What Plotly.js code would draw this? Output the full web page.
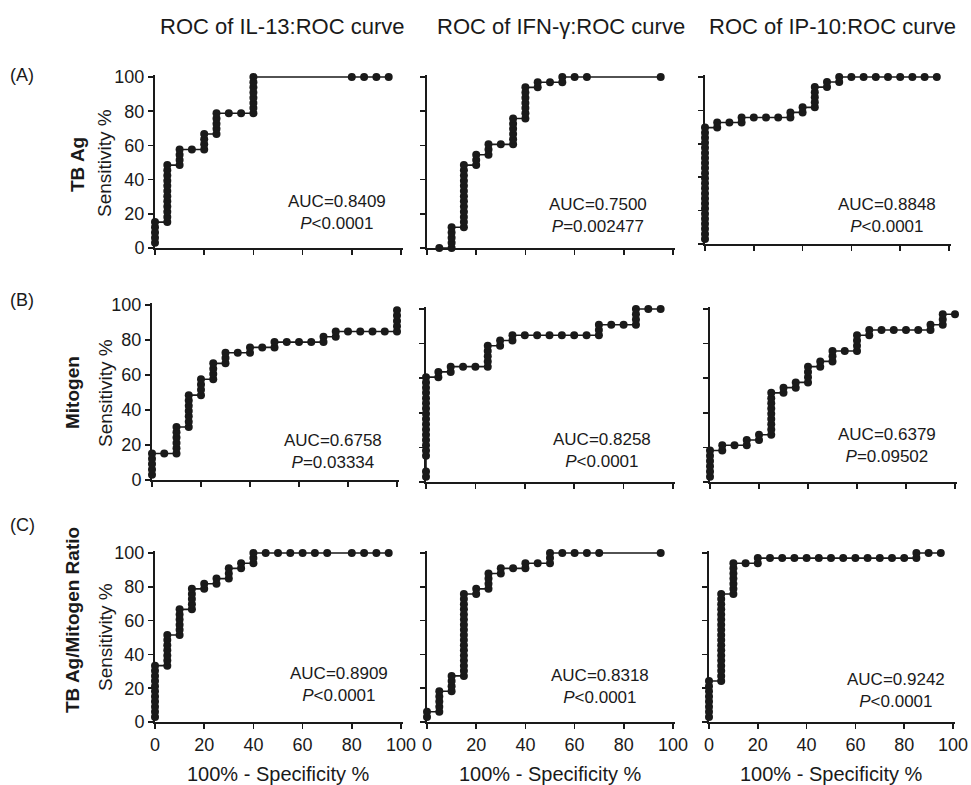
<!DOCTYPE html>
<html>
<head>
<meta charset="utf-8">
<script src="https://cdn.plot.ly/plotly-3.0.1.min.js"></script>
<style>html,body{margin:0;padding:0;background:#fff;}#chart{width:971px;height:785px;}</style>
</head>
<body>
<div id="chart"></div>
<script>
// ---------- data ----------
const colTitles = ["ROC of IL-13:ROC curve", "ROC of IFN-\u03b3:ROC curve", "ROC of IP-10:ROC curve"];
const rowTags = ["(A)", "(B)", "(C)"];
const rowNames = ["TB Ag", "Mitogen", "TB Ag/Mitogen Ratio"];
const xTitle = "100% - Specificity %";
const yTitle = "Sensitivity %";
const tickVals = [0, 20, 40, 60, 80, 100];

const aucText = ["0.8409","0.7500","0.8848","0.6758","0.8258","0.6379","0.8909","0.8318","0.9242"];
const pText   = ["<0.0001","=0.002477","<0.0001","=0.03334","<0.0001","=0.09502","<0.0001","<0.0001","<0.0001"];

// A1: IL-13, TB Ag
const A1_x = [0,0,0,0,0, 5,5,5,5,5,5,5,5,5,5,5,5, 10,10,10,10, 15, 20,20,20,20, 25,25,25,25,25, 30, 35, 40,40,40,40,40,40,40,40, 80,85,90,95];
const A1_y = [3.03,6.06,9.09,12.12,15.15, 15.15,18.18,21.21,24.24,27.27,30.30,33.33,36.36,39.39,42.42,45.45,48.48, 48.48,51.52,54.55,57.58, 57.58, 57.58,60.61,63.64,66.67, 66.67,69.70,72.73,75.76,78.79, 78.79, 78.79, 78.79,81.82,84.85,87.88,90.91,93.94,96.97,100, 100,100,100,100];
// A2: IFN-g, TB Ag
const A2_x = [5, 10,10,10,10,10, 15,15,15,15,15,15,15,15,15,15,15,15,15, 20,20,20, 25,25,25, 30, 35,35,35,35,35,35, 40,40,40,40,40,40,40, 45,45, 50, 55,55, 60, 65, 95];
const A2_y = [0, 0,3.03,6.06,9.09,12.12, 12.12,15.15,18.18,21.21,24.24,27.27,30.30,33.33,36.36,39.39,42.42,45.45,48.48, 48.48,51.52,54.55, 54.55,57.58,60.61, 60.61, 60.61,63.64,66.67,69.70,72.73,75.76, 75.76,78.79,81.82,84.85,87.88,90.91,93.94, 93.94,96.97, 96.97, 96.97,100, 100, 100, 100];
// A3: IP-10, TB Ag
const A3_x = [0,0,0,0,0,0,0,0,0,0,0,0,0,0,0,0,0,0,0,0,0,0,0, 5,5, 10, 15,15, 20, 25, 30, 35,35, 40,40, 45,45,45,45,45, 50,50, 55,55, 60,65,70,75,80,85,90,95];
const A3_y = [3.03,6.06,9.09,12.12,15.15,18.18,21.21,24.24,27.27,30.30,33.33,36.36,39.39,42.42,45.45,48.48,51.52,54.55,57.58,60.61,63.64,66.67,69.70, 69.70,72.73, 72.73, 72.73,75.76, 75.76, 75.76, 75.76, 75.76,78.79, 78.79,81.82, 81.82,84.85,87.88,90.91,93.94, 93.94,96.97, 96.97,100, 100,100,100,100,100,100,100,100];
// B1: IL-13, Mitogen
const B1_x = [0,0,0,0,0, 5, 10,10,10,10,10,10, 15,15,15,15,15,15,15, 20,20,20,20, 25,25,25,25, 30,30,30, 35, 40,40, 45, 50,50, 55, 60, 65, 70,70, 75,75, 80, 85, 90, 95, 100,100,100,100,100];
const B1_y = [3.03,6.06,9.09,12.12,15.15, 15.15, 15.15,18.18,21.21,24.24,27.27,30.30, 30.30,33.33,36.36,39.39,42.42,45.45,48.48, 48.48,51.52,54.55,57.58, 57.58,60.61,63.64,66.67, 66.67,69.70,72.73, 72.73, 72.73,75.76, 75.76, 75.76,78.79, 78.79, 78.79, 78.79, 78.79,81.82, 81.82,84.85, 84.85, 84.85, 84.85, 84.85, 84.85,87.88,90.91,93.94,96.97];
// B2: IFN-g, Mitogen
const B2_x = [0,0,0,0,0,0,0,0,0,0,0,0,0,0,0,0,0,0, 5,5, 10,10, 15, 20, 25,25,25,25,25, 30,30, 35,35, 40, 45, 50, 55, 60, 65, 70,70,70, 75, 80, 85,85,85,85, 90, 95];
const B2_y = [3.03,6.06,15.15,18.18,21.21,24.24,27.27,30.30,33.33,36.36,39.39,42.42,45.45,48.48,51.52,54.55,57.58,60.61, 60.61,63.64, 63.64,66.67, 66.67, 66.67, 66.67,69.70,72.73,75.76,78.79, 78.79,81.82, 81.82,84.85, 84.85, 84.85, 84.85, 84.85, 84.85, 84.85, 84.85,87.88,90.91, 90.91, 90.91, 90.91,93.94,96.97,100, 100, 100];
// B3: IP-10, Mitogen
const B3_x = [0,0,0,0,0,0, 5,5, 10, 15,15, 20,20, 25,25,25,25,25,25,25,25,25, 30,30, 35,35, 40,40,40,40, 45,45, 50,50,50, 55, 60,60,60,60, 65,65, 70, 75, 80, 85, 90,90, 95,95,95, 100];
const B3_y = [3.03,6.06,9.09,12.12,15.15,18.18, 18.18,21.21, 21.21, 21.21,24.24, 24.24,27.27, 27.27,30.30,33.33,36.36,39.39,42.42,45.45,48.48,51.52, 51.52,54.55, 54.55,57.58, 57.58,60.61,63.64,66.67, 66.67,69.70, 69.70,72.73,75.76, 75.76, 75.76,78.79,81.82,84.85, 84.85,87.88, 87.88, 87.88, 87.88, 87.88, 87.88,90.91, 90.91,93.94,96.97, 96.97];
// C1: IL-13, Ratio
const C1_x = [0,0,0,0,0,0,0,0,0,0,0, 5,5,5,5,5,5,5, 10,10,10,10,10,10, 15,15,15,15,15, 20,20, 25,25, 30,30,30, 35,35, 40,40,40, 45,50,55,60,65,70, 80,85,90,95];
const C1_y = [3.03,6.06,9.09,12.12,15.15,18.18,21.21,24.24,27.27,30.30,33.33, 33.33,36.36,39.39,42.42,45.45,48.48,51.52, 51.52,54.55,57.58,60.61,63.64,66.67, 66.67,69.70,72.73,75.76,78.79, 78.79,81.82, 81.82,84.85, 84.85,87.88,90.91, 90.91,93.94, 93.94,96.97,100, 100,100,100,100,100,100, 100,100,100,100];
// C2: IFN-g, Ratio
const C2_x = [0,0, 5,5,5,5,5, 10,10,10,10, 15,15,15,15,15,15,15,15,15,15,15,15,15,15,15,15,15, 20,20, 25,25,25,25, 30,30, 35, 40,40, 45, 50,50,50, 55,60,65,70, 95];
const C2_y = [3.03,6.06, 6.06,9.09,12.12,15.15,18.18, 18.18,21.21,24.24,27.27, 27.27,30.30,33.33,36.36,39.39,42.42,45.45,48.48,51.52,54.55,57.58,60.61,63.64,66.67,69.70,72.73,75.76, 75.76,78.79, 78.79,81.82,84.85,87.88, 87.88,90.91, 90.91, 90.91,93.94, 93.94, 93.94,96.97,100, 100,100,100,100, 100];
// C3: IP-10, Ratio
const C3_x = [0,0,0,0,0,0,0,0, 5,5,5,5,5,5,5,5,5,5,5,5,5,5,5,5,5,5, 10,10,10,10,10,10,10, 15, 20,20, 25,30,35,40,45,50,55,60,65,70,75,80, 85,85, 90, 95];
const C3_y = [3.03,6.06,9.09,12.12,15.15,18.18,21.21,24.24, 24.24,27.27,30.30,33.33,36.36,39.39,42.42,45.45,48.48,51.52,54.55,57.58,60.61,63.64,66.67,69.70,72.73,75.76, 75.76,78.79,81.82,84.85,87.88,90.91,93.94, 93.94, 93.94,96.97, 96.97,96.97,96.97,96.97,96.97,96.97,96.97,96.97,96.97,96.97,96.97,96.97, 96.97,100, 100, 100];

const panelX = [A1_x, A2_x, A3_x, B1_x, B2_x, B3_x, C1_x, C2_x, C3_x];
const panelY = [A1_y, A2_y, A3_y, B1_y, B2_y, B3_y, C1_y, C2_y, C3_y];

// ---------- layout constants (pixels) ----------
const W = 971, H = 785;
const FONT = '"Liberation Sans", Arial, Helvetica, sans-serif';
const INK = '#1a1a1a';
// [x of 0, x of 100, y of 100, y of 0]
const BOX = [
  [155,401,77,248], [427,673,77,248], [705,949,77,244],
  [152,397,305,480], [426,673,309,482], [710,955,309,482],
  [155,401,553,722], [427,673,553,722], [709,953,553,722]
];
const AUCPOS = [[74,20.5],[69.5,19],[74.6,17],[74,16.4],[71.3,18.1],[72.2,21.2],[74.8,21.9],[70.3,20.9],[76.6,18.7]];
const EXT = 1.01;

const data = [];
const layout = {
  width: W, height: H,
  margin: {l:0, r:0, t:0, b:0},
  paper_bgcolor: '#fff', plot_bgcolor: 'rgba(0,0,0,0)',
  showlegend: false,
  font: {family: FONT, color: INK},
  annotations: []
};

for (let i = 0; i < 9; i++) {
  const b = BOX[i];
  const row = Math.floor(i / 3), col = i % 3;
  const sfx = i === 0 ? '' : String(i + 1);
  data.push({
    type: 'scatter', mode: 'lines+markers',
    x: panelX[i], y: panelY[i],
    xaxis: 'x' + sfx, yaxis: 'y' + sfx,
    line: {color: INK, width: 1.6},
    marker: {color: INK, size: 8},
    cliponaxis: false, hoverinfo: 'skip'
  });
  const xd = [b[0] / W, (b[0] + (b[1] - b[0]) * EXT) / W];
  const yd = [1 - b[3] / H, 1 - (b[3] - (b[3] - b[2]) * EXT) / H];
  const common = {
    showline: true, linecolor: INK, linewidth: 2,
    ticks: 'outside', ticklen: 5, tickwidth: 1.6, tickcolor: INK,
    showgrid: false, zeroline: false, range: [0, 100 * EXT],
    tickvals: tickVals, tickfont: {size: 18, family: FONT, color: INK}, fixedrange: true
  };
  layout['xaxis' + sfx] = Object.assign({}, common, {
    domain: xd, anchor: 'y' + sfx, showticklabels: row === 2
  });
  layout['yaxis' + sfx] = Object.assign({}, common, {
    domain: yd, anchor: 'x' + sfx, showticklabels: col === 0
  });
  layout.annotations.push({
    xref: 'x' + sfx, yref: 'y' + sfx, x: AUCPOS[i][0], y: AUCPOS[i][1],
    xanchor: 'center', yanchor: 'middle', align: 'center', showarrow: false,
    text: 'AUC=' + aucText[i] + '<br><i>P</i>' + pText[i].replace('<', '&lt;'),
    font: {size: 17, family: FONT, color: INK}
  });
}

// column titles and x-axis titles
const colCenters = [282, 561, 832];
const xTitleCenters = [278, 550, 831];
for (let c = 0; c < 3; c++) {
  layout.annotations.push({
    xref: 'paper', yref: 'paper', x: colCenters[c] / W, y: 1 - 27 / H,
    xanchor: 'center', yanchor: 'middle', showarrow: false,
    text: colTitles[c], font: {size: 22, family: FONT, color: INK}
  });
  layout.annotations.push({
    xref: 'paper', yref: 'paper', x: xTitleCenters[c] / W, y: 1 - 774 / H,
    xanchor: 'center', yanchor: 'middle', showarrow: false,
    text: xTitle, font: {size: 20, family: FONT, color: INK}
  });
}
// row tags, row names, y titles
const tagY = [75, 300, 525];
const rowNameY = [165, 393, 620];
const rowNameX = [78, 72, 72];
const yTitleY = [163, 393, 637];
for (let r = 0; r < 3; r++) {
  layout.annotations.push({
    xref: 'paper', yref: 'paper', x: 8 / W, y: 1 - tagY[r] / H,
    xanchor: 'left', yanchor: 'middle', showarrow: false,
    text: rowTags[r], font: {size: 18, family: FONT, color: INK}
  });
  layout.annotations.push({
    xref: 'paper', yref: 'paper', x: rowNameX[r] / W, y: 1 - rowNameY[r] / H,
    xanchor: 'center', yanchor: 'middle', showarrow: false, textangle: -90,
    text: '<b>' + rowNames[r] + '</b>', font: {size: 19, family: FONT, color: INK}
  });
  layout.annotations.push({
    xref: 'paper', yref: 'paper', x: 105 / W, y: 1 - yTitleY[r] / H,
    xanchor: 'center', yanchor: 'middle', showarrow: false, textangle: -90,
    text: yTitle, font: {size: 19, family: FONT, color: INK}
  });
}

Plotly.newPlot('chart', data, layout, {displayModeBar: false, staticPlot: true});
</script>
</body>
</html>
